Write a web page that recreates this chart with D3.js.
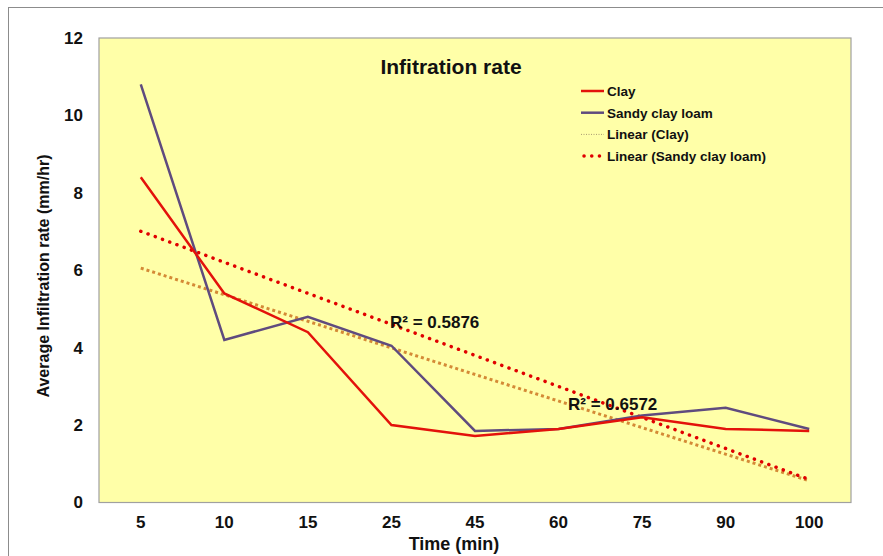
<!DOCTYPE html>
<html>
<head>
<meta charset="utf-8">
<script src="https://cdn.jsdelivr.net/npm/d3@7"></script>
<style>
	body { margin: 0; background: #fff; }
	text { font-family: Arial, "Liberation Sans", sans-serif; font-weight: bold; fill: #111; }
</style>
</head>
<body>
<div id="chart"></div>
<script>
// values
const times = ['5', '10', '15', '25', '45', '60', '75', '90', '100'];
const clay = [8.4, 5.4, 4.4, 2.0, 1.72, 1.9, 2.2, 1.9, 1.85];
const sandyClayLoam = [10.8, 4.2, 4.8, 4.05, 1.85, 1.9, 2.25, 2.45, 1.9];
const yTicks = [0, 2, 4, 6, 8, 10, 12];
const r2Labels = ['R² = 0.5876', 'R² = 0.6572'];

const width = 883,
	height = 556,
	plot = {left: 99, top: 38, right: 851, bottom: 502.5};

const clayColor = '#e3120b',
	sandyColor = '#5f4b7e',
	clayTrendColor = '#d48a36',
	sandyTrendColor = '#e00000';

// least squares fit on the category index, like the spreadsheet trendline
function linearFit(values){
	const n = values.length,
		xs = values.map((d, i) => i + 1),
		mx = d3.mean(xs),
		my = d3.mean(values);
	let num = 0, den = 0;
	xs.forEach((x, i) => {
		num += (x - mx) * (values[i] - my);
		den += (x - mx) * (x - mx);
	});
	const slope = num / den;
	return [my + slope * (1 - mx), my + slope * (n - mx)];
}

const svg = d3.select('#chart').append('svg')
	.attr('width', width)
	.attr('height', height);

// outer chart border
svg.append('rect')
	.attr('x', 8.5).attr('y', 7.5)
	.attr('width', 880).attr('height', 560)
	.style('fill', 'none')
	.style('stroke', '#8c8c8c')
	.style('stroke-width', 1);

const x = d3.scalePoint()
	.domain(times)
	.range([plot.left, plot.right])
	.padding(0.5);

const y = d3.scaleLinear()
	.domain([0, 12])
	.range([plot.bottom, plot.top]);

// plot area
svg.append('rect')
	.attr('x', plot.left).attr('y', plot.top)
	.attr('width', plot.right - plot.left)
	.attr('height', plot.bottom - plot.top)
	.style('fill', '#ffffa8')
	.style('stroke', '#a0a0a0')
	.style('stroke-width', 1.2);

// y tick labels
svg.append('g')
	.selectAll('text')
	.data(yTicks)
	.enter()
		.append('text')
		.attr('x', 83)
		.attr('y', d => y(d))
		.attr('dy', '0.35em')
		.attr('text-anchor', 'end')
		.style('font-size', '17px')
		.text(d => d);

// x tick labels
svg.append('g')
	.selectAll('text')
	.data(times)
	.enter()
		.append('text')
		.attr('x', d => x(d))
		.attr('y', 528)
		.attr('text-anchor', 'middle')
		.style('font-size', '17px')
		.text(d => d);

svg.append('text')
	.attr('x', 454)
	.attr('y', 550)
	.attr('text-anchor', 'middle')
	.style('font-size', '18px')
	.text('Time (min)');

svg.append('text')
	.attr('transform', 'translate(49,276) rotate(-90)')
	.attr('text-anchor', 'middle')
	.style('font-size', '16px')
	.text('Average Infiltration rate (mm/hr)');

svg.append('text')
	.attr('x', 451)
	.attr('y', 74)
	.attr('text-anchor', 'middle')
	.style('font-size', '21px')
	.text('Infitration rate');

const line = d3.line()
	.x((d, i) => x(times[i]))
	.y(d => y(d));

// trend lines run from the first to the last category
const trendLine = d3.line()
	.x((d, i) => x(times[i === 0 ? 0 : times.length - 1]))
	.y(d => y(d));

svg.append('path')
	.attr('d', trendLine(linearFit(clay)))
	.style('fill', 'none')
	.style('stroke', clayTrendColor)
	.style('stroke-width', 3)
	.style('stroke-dasharray', '3,3');

svg.append('path')
	.attr('d', trendLine(linearFit(sandyClayLoam)))
	.style('fill', 'none')
	.style('stroke', sandyTrendColor)
	.style('stroke-width', 3.5)
	.style('stroke-linecap', 'round')
	.style('stroke-dasharray', '0.1,7.6');

svg.append('path')
	.attr('d', line(sandyClayLoam))
	.style('fill', 'none')
	.style('stroke', sandyColor)
	.style('stroke-width', 2.5);

svg.append('path')
	.attr('d', line(clay))
	.style('fill', 'none')
	.style('stroke', clayColor)
	.style('stroke-width', 2.5);

// R squared labels
const r2Pos = [[390, 328], [568, 410]];
svg.append('g')
	.selectAll('text')
	.data(r2Labels)
	.enter()
		.append('text')
		.attr('x', (d, i) => r2Pos[i][0])
		.attr('y', (d, i) => r2Pos[i][1])
		.style('font-size', '17px')
		.text(d => d);

// legend
const legendItems = [
	{name: 'Clay', color: clayColor, width: 2.5, dash: null, cap: 'butt'},
	{name: 'Sandy clay loam', color: sandyColor, width: 2.5, dash: null, cap: 'butt'},
	{name: 'Linear (Clay)', color: '#a89a70', width: 1, dash: '1,1.5', cap: 'butt'},
	{name: 'Linear (Sandy clay loam)', color: sandyTrendColor, width: 3.5, dash: '0.1,7.6', cap: 'round'}
];

const legend = svg.append('g')
	.selectAll('g')
	.data(legendItems)
	.enter()
		.append('g')
		.attr('transform', (d, i) => `translate(581,${91 + i * 21.7})`);

legend.append('line')
	.attr('x1', d => d.cap === 'round' ? 3 : 0)
	.attr('x2', 23)
	.style('stroke', d => d.color)
	.style('stroke-width', d => d.width)
	.style('stroke-linecap', d => d.cap)
	.style('stroke-dasharray', d => d.dash);

legend.append('text')
	.attr('x', 26)
	.attr('dy', '0.36em')
	.style('font-size', '13.5px')
	.text(d => d.name);
</script>
</body>
</html>
